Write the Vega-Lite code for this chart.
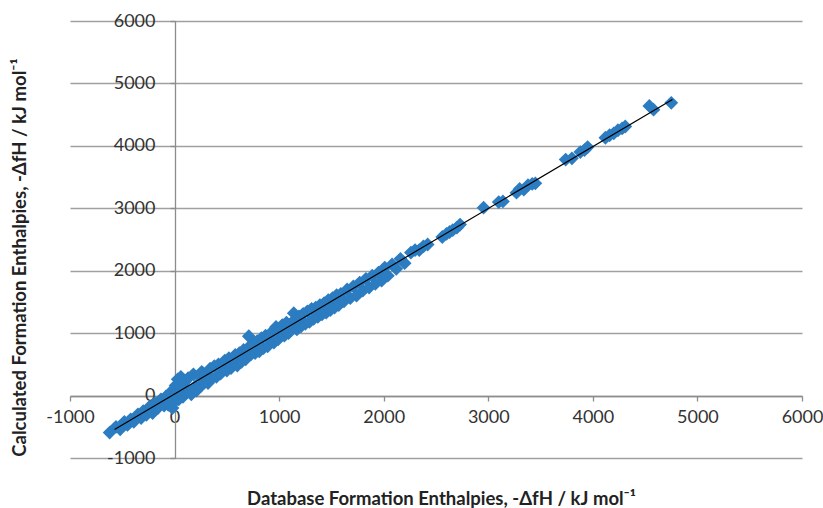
{
  "$schema": "https://vega.github.io/schema/vega-lite/v6.json",
  "width": 732,
  "height": 437,
  "autosize": {"type": "none"},
  "padding": {"left": 70, "top": 21, "right": 21, "bottom": 50},
  "background": "white",
  "config": {
    "view": {"stroke": null},
    "axis": {"labelFont": "Lato", "titleFont": "Lato", "labelColor": "#333333", "titleColor": "#222222"}
  },
  "datasets": {
    "pts": [
      {"db": -621, "calc": -593}, {"db": -560, "calc": -500}, {"db": -520, "calc": -540}, {"db": -480, "calc": -420},
      {"db": -450, "calc": -470}, {"db": -420, "calc": -380}, {"db": -390, "calc": -420}, {"db": -350, "calc": -300},
      {"db": -320, "calc": -360}, {"db": -300, "calc": -250}, {"db": -270, "calc": -310}, {"db": -240, "calc": -180},
      {"db": -210, "calc": -280}, {"db": -190, "calc": -120}, {"db": -160, "calc": -200}, {"db": -130, "calc": -60},
      {"db": -100, "calc": -160}, {"db": -80, "calc": -10}, {"db": -60, "calc": -150}, {"db": -40, "calc": 40},
      {"db": -20, "calc": -200}, {"db": -10, "calc": 100}, {"db": 0, "calc": -100}, {"db": 10, "calc": 160},
      {"db": 20, "calc": 20}, {"db": 30, "calc": 260}, {"db": 40, "calc": -60}, {"db": 50, "calc": 180},
      {"db": 60, "calc": 300}, {"db": 70, "calc": 90}, {"db": 80, "calc": -20}, {"db": 100, "calc": 220},
      {"db": 110, "calc": 40}, {"db": 130, "calc": 280}, {"db": 150, "calc": 80}, {"db": 160, "calc": 20},
      {"db": 180, "calc": 340}, {"db": 200, "calc": 150}, {"db": 210, "calc": 80}, {"db": 230, "calc": 320},
      {"db": 250, "calc": 150}, {"db": 260, "calc": 380}, {"db": 280, "calc": 200}, {"db": 300, "calc": 350},
      {"db": 320, "calc": 200}, {"db": 340, "calc": 430}, {"db": 360, "calc": 280}, {"db": 380, "calc": 470},
      {"db": 400, "calc": 300}, {"db": 420, "calc": 500}, {"db": 440, "calc": 350}, {"db": 460, "calc": 440},
      {"db": 480, "calc": 560}, {"db": 500, "calc": 400}, {"db": 520, "calc": 600}, {"db": 540, "calc": 440},
      {"db": 560, "calc": 580}, {"db": 580, "calc": 650}, {"db": 600, "calc": 480}, {"db": 620, "calc": 680},
      {"db": 640, "calc": 540}, {"db": 660, "calc": 730}, {"db": 680, "calc": 580}, {"db": 700, "calc": 760},
      {"db": 710, "calc": 950}, {"db": 730, "calc": 660}, {"db": 750, "calc": 820}, {"db": 770, "calc": 680},
      {"db": 790, "calc": 870}, {"db": 810, "calc": 710}, {"db": 830, "calc": 920}, {"db": 850, "calc": 760},
      {"db": 870, "calc": 960}, {"db": 890, "calc": 790}, {"db": 910, "calc": 950}, {"db": 930, "calc": 1020},
      {"db": 950, "calc": 850}, {"db": 970, "calc": 1100}, {"db": 990, "calc": 900}, {"db": 1010, "calc": 1080},
      {"db": 1030, "calc": 1130}, {"db": 1050, "calc": 960}, {"db": 1070, "calc": 1170}, {"db": 1090, "calc": 1000},
      {"db": 1110, "calc": 1150}, {"db": 1140, "calc": 1320}, {"db": 1150, "calc": 1210}, {"db": 1170, "calc": 1060},
      {"db": 1190, "calc": 1270}, {"db": 1210, "calc": 1110}, {"db": 1230, "calc": 1310}, {"db": 1250, "calc": 1150},
      {"db": 1270, "calc": 1350}, {"db": 1290, "calc": 1180}, {"db": 1310, "calc": 1390}, {"db": 1330, "calc": 1230},
      {"db": 1350, "calc": 1410}, {"db": 1370, "calc": 1260}, {"db": 1390, "calc": 1450}, {"db": 1410, "calc": 1300},
      {"db": 1430, "calc": 1480}, {"db": 1450, "calc": 1330}, {"db": 1470, "calc": 1530}, {"db": 1490, "calc": 1370},
      {"db": 1510, "calc": 1560}, {"db": 1530, "calc": 1410}, {"db": 1550, "calc": 1610}, {"db": 1570, "calc": 1450},
      {"db": 1590, "calc": 1630}, {"db": 1620, "calc": 1510}, {"db": 1650, "calc": 1700}, {"db": 1680, "calc": 1560},
      {"db": 1710, "calc": 1750}, {"db": 1740, "calc": 1600}, {"db": 1770, "calc": 1810}, {"db": 1800, "calc": 1680},
      {"db": 1830, "calc": 1870}, {"db": 1860, "calc": 1730}, {"db": 1890, "calc": 1920}, {"db": 1920, "calc": 1790},
      {"db": 1950, "calc": 1970}, {"db": 1980, "calc": 1840}, {"db": 2010, "calc": 2050}, {"db": 2040, "calc": 1920},
      {"db": 2080, "calc": 2100}, {"db": 2120, "calc": 2030}, {"db": 2160, "calc": 2190}, {"db": 2200, "calc": 2120},
      {"db": 2260, "calc": 2290}, {"db": 2300, "calc": 2330}, {"db": 2340, "calc": 2330}, {"db": 2380, "calc": 2390},
      {"db": 2420, "calc": 2420}, {"db": 2560, "calc": 2540}, {"db": 2600, "calc": 2590}, {"db": 2630, "calc": 2620},
      {"db": 2660, "calc": 2650}, {"db": 2700, "calc": 2690}, {"db": 2730, "calc": 2740}, {"db": 2955, "calc": 3010},
      {"db": 3100, "calc": 3100}, {"db": 3140, "calc": 3110}, {"db": 3270, "calc": 3250}, {"db": 3300, "calc": 3310},
      {"db": 3340, "calc": 3300}, {"db": 3380, "calc": 3370}, {"db": 3420, "calc": 3390}, {"db": 3450, "calc": 3400},
      {"db": 3740, "calc": 3780}, {"db": 3800, "calc": 3800}, {"db": 3880, "calc": 3900}, {"db": 3920, "calc": 3930},
      {"db": 3950, "calc": 3980}, {"db": 4120, "calc": 4130}, {"db": 4160, "calc": 4170}, {"db": 4200, "calc": 4200},
      {"db": 4240, "calc": 4250}, {"db": 4280, "calc": 4280}, {"db": 4310, "calc": 4310}, {"db": 4540, "calc": 4640},
      {"db": 4580, "calc": 4580}, {"db": 4750, "calc": 4690}
    ],
    "fit": [
      {"db": -574, "calc": -545},
      {"db": 4761, "calc": 4742}
    ]
  },
  "layer": [
    {
      "data": {"name": "pts"},
      "mark": {"type": "point", "shape": "diamond", "filled": true, "size": 190, "color": "#2B7CC1", "opacity": 1},
      "encoding": {
        "x": {
          "field": "db", "type": "quantitative",
          "scale": {"domain": [-1000, 6000], "nice": false, "zero": false},
          "axis": {
            "title": "Database Formation Enthalpies, -ΔfH / kJ mol⁻¹",
            "values": [-1000, 0, 1000, 2000, 3000, 4000, 5000, 6000],
            "labelExpr": "'' + datum.value",
            "orient": "bottom", "offset": -62,
            "grid": false,
            "domainColor": "#8c8c8c", "domainWidth": 1.3,
            "tickColor": "#8c8c8c", "tickWidth": 1.3, "tickSize": 5,
            "labelFontSize": 18, "labelPadding": 7, "labelFlush": false, "labelOverlap": false,
            "titleFontSize": 18.5, "titleFontWeight": "bold",
            "titleX": 371, "titleY": 102, "titleBaseline": "middle", "titleAlign": "center"
          }
        },
        "y": {
          "field": "calc", "type": "quantitative",
          "scale": {"domain": [-1000, 6000], "nice": false, "zero": false},
          "axis": {
            "title": "Calculated Formation Enthalpies, -ΔfH / kJ mol⁻¹",
            "values": [-1000, 0, 1000, 2000, 3000, 4000, 5000, 6000],
            "labelExpr": "'' + datum.value",
            "orient": "left", "offset": -105,
            "grid": true, "gridColor": "#a0a0a0", "gridWidth": 1.5,
            "domainColor": "#8c8c8c", "domainWidth": 1.3,
            "tickColor": "#8c8c8c", "tickWidth": 1.3, "tickSize": 5,
            "labelFontSize": 18, "labelPadding": 15, "labelOverlap": false, "labelFlush": false,
            "titleFontSize": 18.5, "titleFontWeight": "bold",
            "titleX": -156, "titleY": 236, "titleBaseline": "middle", "titleAlign": "center", "titleAngle": -90
          }
        }
      }
    },
    {
      "data": {"name": "fit"},
      "mark": {"type": "line", "color": "#000000", "strokeWidth": 1.2},
      "encoding": {
        "x": {"field": "db", "type": "quantitative"},
        "y": {"field": "calc", "type": "quantitative"}
      }
    }
  ]
}
